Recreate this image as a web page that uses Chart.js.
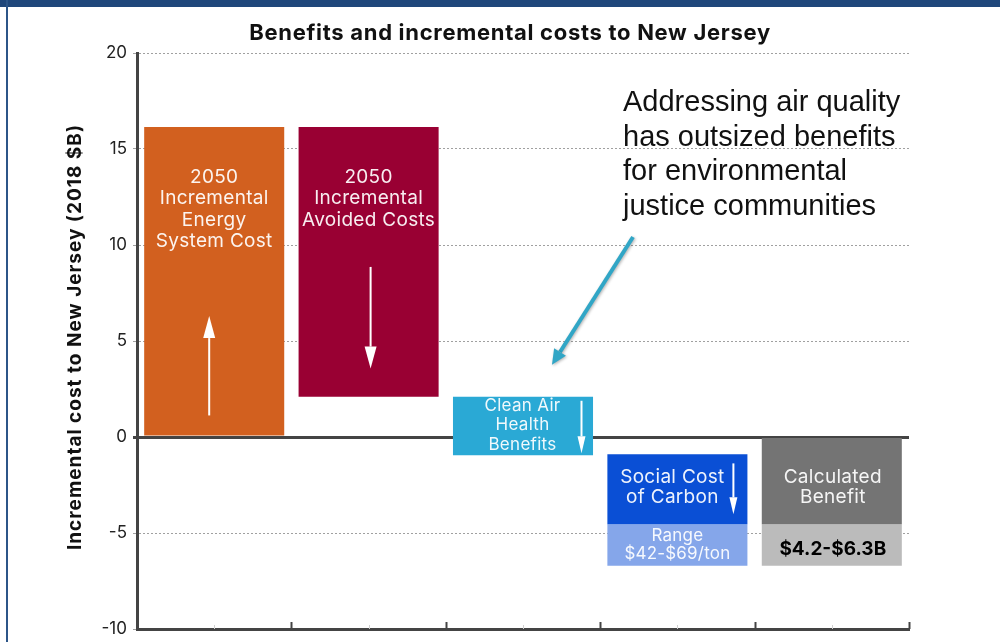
<!DOCTYPE html>
<html>
<head>
<meta charset="utf-8">
<title>Benefits and incremental costs to New Jersey</title>
<script src="https://cdn.jsdelivr.net/npm/chart.js@4.4.1/dist/chart.umd.min.js"></script>
<style>
    html, body { margin: 0; padding: 0; background: #fff; }
    #frame { position: relative; width: 1000px; height: 642px; overflow: hidden; }
    #frame canvas { position: absolute; left: 0; top: 0; }
    #topBar { position: absolute; left: 0; top: 0; width: 1000px; height: 7px; background: #1f477b; }
    #leftRule { position: absolute; left: 6px; top: 0; width: 2px; height: 642px; background: #2c5588; }
</style>
</head>
<body>
<div id="frame">
    <canvas id="chart" width="1000" height="642"></canvas>
    <div id="topBar"></div>
    <div id="leftRule"></div>
</div>
<script>
// Categories and values ($B, 2018)
const categories = ['Energy System Cost', 'Avoided Costs', 'Clean Air Health Benefits', 'Social Cost of Carbon', 'Calculated Benefit'];
const barLow = [0, 2.1, -0.95, -4.55, -4.55];
const barHigh = [16.15, 16.15, 2.1, -0.9, -0.05];
const rangeLow = [null, null, null, -6.7, -6.7];
const rangeHigh = [null, null, null, -4.55, -4.55];
const yTicks = [-10, -5, 0, 5, 10, 15, 20];

// Text inside the boxes
const barLabels = [
    ['2050', 'Incremental', 'Energy', 'System Cost'],
    ['2050', 'Incremental', 'Avoided Costs'],
    ['Clean Air', 'Health', 'Benefits'],
    ['Social Cost', 'of Carbon'],
    ['Calculated', 'Benefit']
];
const rangeLabels = [null, null, null, ['Range', '$42-$69/ton'], ['$4.2-$6.3B']];
const calloutLines = ['Addressing air quality', 'has outsized benefits', 'for environmental', 'justice communities'];
const chartTitle = 'Benefits and incremental costs to New Jersey';
const yTitle = 'Incremental cost to New Jersey (2018 $B)';

// Colours
const barColors = ['#d2601f', '#990033', '#2aa9d5', '#0a4fd5', '#747474'];
const rangeColors = [null, null, null, '#85a6ea', '#bbbbbb'];

// Label layout per box: font size, first line offset from box top, line step, x shift
// arrow: x shift from centre, tail/tip as fraction of box height
const labelStyle = [
    { size: 19, top: 50, step: 21.5, dx: 0, arrow: { dx: -5, tail: 0.935, tip: 0.613, head: [12, 22] } },
    { size: 19, top: 50, step: 21.5, dx: 0, arrow: { dx: 2, tail: 0.519, tip: 0.896, head: [12, 22] } },
    { size: 17, top: 9, step: 19.5, dx: -0.5, arrow: { dx: 58.5, tail: 0.07, tip: 0.966, head: [8, 17] } },
    { size: 19, top: 23, step: 20.5, dx: -5, arrow: { dx: 56, tail: 0.13, tip: 0.857, head: [8, 17] } },
    { size: 19, top: 39, step: 20.5, dx: 1, arrow: null }
];

const FONT = 'Inter, "Open Sans", sans-serif';
Chart.defaults.font.family = FONT;

function drawArrow(ctx, x1, y1, x2, y2, width, headW, headLen, color) {
    const ang = Math.atan2(y2 - y1, x2 - x1);
    const bx = x2 - headLen * Math.cos(ang);
    const by = y2 - headLen * Math.sin(ang);
    ctx.strokeStyle = color;
    ctx.fillStyle = color;
    ctx.lineWidth = width;
    ctx.beginPath();
    ctx.moveTo(x1, y1);
    ctx.lineTo(bx, by);
    ctx.stroke();
    ctx.beginPath();
    ctx.moveTo(x2, y2);
    ctx.lineTo(bx + headW / 2 * Math.sin(ang), by - headW / 2 * Math.cos(ang));
    ctx.lineTo(bx - headW / 2 * Math.sin(ang), by + headW / 2 * Math.cos(ang));
    ctx.closePath();
    ctx.fill();
}

function boxOf(el) {
    const p = el.getProps(['x', 'y', 'base', 'width'], true);
    return {
        cx: p.x,
        left: p.x - p.width / 2,
        right: p.x + p.width / 2,
        top: Math.min(p.y, p.base),
        bottom: Math.max(p.y, p.base)
    };
}

// Titles, box labels, arrows, x-axis ticks and the callout
const decorPlugin = {
    id: 'decor',
    afterDatasetsDraw(chart) {
        const { ctx, chartArea, scales } = chart;
        const main = chart.getDatasetMeta(0).data;
        const range = chart.getDatasetMeta(1).data;
        ctx.save();

        // chart title
        ctx.fillStyle = '#111';
        ctx.font = 'bold 22px ' + FONT;
        ctx.letterSpacing = '0.7px';
        ctx.textAlign = 'center';
        ctx.textBaseline = 'middle';
        ctx.fillText(chartTitle, (chartArea.left + chartArea.right) / 2 - 13, 33);

        // y-axis title
        ctx.save();
        ctx.translate(75, (chartArea.top + chartArea.bottom) / 2 - 4);
        ctx.rotate(-Math.PI / 2);
        ctx.font = 'bold 19px ' + FONT;
        ctx.letterSpacing = '1px';
        ctx.fillText(yTitle, 0, 0);
        ctx.restore();

        main.forEach((el, i) => {
            const b = boxOf(el);
            const st = labelStyle[i];
            ctx.fillStyle = 'rgba(255,255,255,0.93)';
            ctx.font = st.size + 'px ' + FONT;
            ctx.letterSpacing = '0.3px';
            barLabels[i].forEach((line, k) => {
                ctx.fillText(line, b.cx + st.dx, b.top + st.top + k * st.step);
            });
            if (st.arrow) {
                const a = st.arrow;
                const h = b.bottom - b.top;
                drawArrow(ctx, b.cx + a.dx, b.top + h * a.tail, b.cx + a.dx, b.top + h * a.tip,
                    2, a.head[0], a.head[1], '#fff');
            }
        });

        range.forEach((el, i) => {
            if (!rangeLabels[i]) return;
            const b = boxOf(el);
            const mid = (b.top + b.bottom) / 2;
            if (rangeLabels[i].length === 2) {
                ctx.fillStyle = 'rgba(255,255,255,0.93)';
                ctx.font = '17px ' + FONT;
                ctx.letterSpacing = '0.2px';
                ctx.fillText(rangeLabels[i][0], b.cx, mid - 9);
                ctx.fillText(rangeLabels[i][1], b.cx, mid + 9);
            } else {
                ctx.fillStyle = '#000';
                ctx.font = 'bold 19px ' + FONT;
                ctx.letterSpacing = '0px';
                ctx.fillText(rangeLabels[i][0], b.cx + 1, mid + 4);
            }
        });
        ctx.letterSpacing = '0px';

        // x-axis ticks: boundaries (dark) and centres (faint)
        const x = scales.x;
        const bottom = chartArea.bottom;
        for (let i = 0; i <= categories.length; i++) {
            const px = Math.round(x.getPixelForValue(i - 0.5)) + 0.5;
            ctx.strokeStyle = '#444';
            ctx.lineWidth = 2;
            ctx.beginPath();
            ctx.moveTo(px, bottom - 7);
            ctx.lineTo(px, bottom);
            ctx.stroke();
        }
        for (let i = 0; i < categories.length; i++) {
            const px = Math.round(x.getPixelForValue(i)) + 0.5;
            ctx.strokeStyle = '#d0d0d0';
            ctx.lineWidth = 1;
            ctx.beginPath();
            ctx.moveTo(px, bottom - 4);
            ctx.lineTo(px, bottom);
            ctx.stroke();
        }

        // callout text
        const cx = chartArea.right - 286;
        ctx.fillStyle = '#111';
        ctx.font = '29px "Liberation Sans", Arial, sans-serif';
        ctx.textAlign = 'left';
        ctx.textBaseline = 'alphabetic';
        calloutLines.forEach((line, k) => ctx.fillText(line, cx, 111 + k * 34.7));

        // callout arrow pointing at the clean air box
        const target = boxOf(main[2]);
        ctx.shadowColor = 'rgba(0,0,0,0.3)';
        ctx.shadowBlur = 3;
        ctx.shadowOffsetX = 1;
        ctx.shadowOffsetY = 1;
        drawArrow(ctx, cx + 10, 237, target.left + 99, target.top - 32, 4, 14, 15, '#31a6c6');
        ctx.restore();
    }
};

const mainData = barLow.map((lo, i) => [lo, barHigh[i]]);
const rangeData = rangeLow.map((lo, i) => lo === null ? null : [lo, rangeHigh[i]]);

new Chart(document.getElementById('chart'), {
    type: 'bar',
    data: {
        labels: categories,
        datasets: [
            {
                label: 'Value',
                data: mainData,
                backgroundColor: barColors,
                grouped: false,
                categoryPercentage: 1,
                barPercentage: 0.907
            },
            {
                label: 'Range',
                data: rangeData,
                backgroundColor: rangeColors,
                grouped: false,
                categoryPercentage: 1,
                barPercentage: 0.907
            }
        ]
    },
    options: {
        responsive: false,
        animation: false,
        events: [],
        layout: { padding: { top: 53, right: 91, bottom: 13, left: 0 } },
        plugins: {
            legend: { display: false },
            tooltip: { enabled: false },
            title: { display: false }
        },
        scales: {
            x: {
                grid: { display: false, drawTicks: false },
                ticks: { display: false },
                border: { color: '#444', width: 3 },
                afterFit: (s) => { s.height = 0; }
            },
            y: {
                min: -10,
                max: 20,
                afterBuildTicks: (s) => { s.ticks = yTicks.map(v => ({ value: v })); },
                afterFit: (s) => {
                    s.width = 137;
                    s.paddingTop = 0;
                    s.paddingBottom = 0;
                },
                ticks: {
                    color: '#222',
                    font: { size: 17 },
                    padding: 6
                },
                grid: {
                    color: (c) => c.tick && c.tick.value === 0 ? '#444' : '#a0a0a0',
                    lineWidth: (c) => c.tick && c.tick.value === 0 ? 3 : 1,
                    tickLength: 4
                },
                border: {
                    color: '#444',
                    width: 3,
                    dash: (c) => c.tick && c.tick.value !== 0 ? [2, 2] : []
                }
            }
        }
    },
    plugins: [decorPlugin]
});
</script>
</body>
</html>
